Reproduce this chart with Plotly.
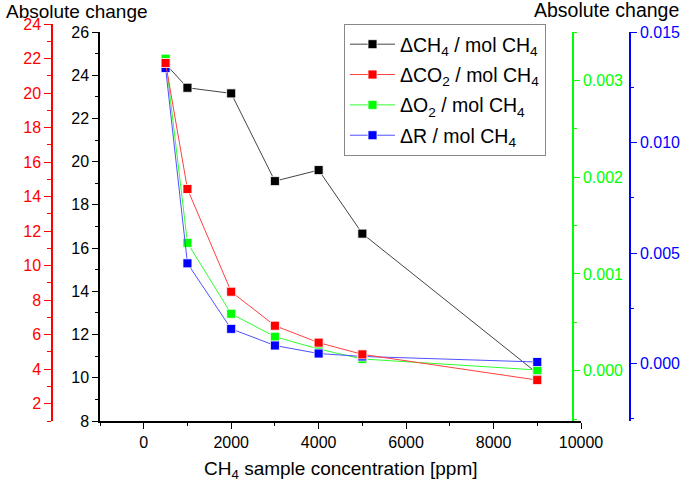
import plotly.graph_objects as go

# Data
conc = [500, 1000, 2000, 3000, 4000, 5000, 9000]
d_ch4 = [24.52, 23.42, 23.16, 19.10, 19.61, 16.67, 10.21]
d_co2 = [21.74, 14.44, 8.49, 6.52, 5.54, 4.86, 3.37]
d_o2 = [0.003224, 0.001321, 0.000588, 0.000351, 0.000224, 0.000121, 0.000007]
d_r = [0.01337, 0.004533, 0.001568, 0.000816, 0.000453, 0.00032, 0.00007]

names = ["ΔCH<sub>4</sub> / mol CH<sub>4</sub>", "ΔCO<sub>2</sub> / mol CH<sub>4</sub>",
         "ΔO<sub>2</sub> / mol CH<sub>4</sub>", "ΔR / mol CH<sub>4</sub>"]
x_title = "CH<sub>4</sub> sample concentration [ppm]"
y_title = "Absolute change"

FONT = "Liberation Sans, Arial, sans-serif"
BLACK, RED, GREEN, BLUE = "#000000", "#FF0000", "#00FF00", "#0000FF"

W, H = 685, 484
ML, MR, MT, MB = 48, 685 - 640, 24, 63
PW = W - ML - MR  # 592
PH = H - MT - MB  # 397

def px_x(p):
    return (p - ML) / PW

def px_y(p):
    return (H - MB - p) / PH

def mk(color):
    return dict(symbol="square", size=9, color=color, line=dict(color="rgba(255,255,255,0.8)", width=1))

fig = go.Figure()
fig.add_trace(go.Scatter(x=conc, y=d_ch4, name=names[0], mode="lines+markers", legendgroup="a",
                         line=dict(color="#444444", width=1), marker=mk(BLACK), xaxis="x", yaxis="y"))
fig.add_trace(go.Scatter(x=conc, y=d_co2, name=names[1], mode="lines+markers", legendgroup="b",
                         line=dict(color="#FF4040", width=1), marker=mk(RED), xaxis="x", yaxis="y2"))
fig.add_trace(go.Scatter(x=conc, y=d_o2, name=names[2], mode="lines+markers", legendgroup="c",
                         line=dict(color="#30FF30", width=1), marker=mk(GREEN), xaxis="x", yaxis="y3"))
fig.add_trace(go.Scatter(x=conc, y=d_r, name=names[3], mode="lines+markers", legendgroup="d",
                         line=dict(color="#5050FF", width=1), marker=mk(BLUE), xaxis="x", yaxis="y4"))

TS = 16
tickfont = dict(family=FONT, size=TS)
common = dict(showgrid=False, zeroline=False, showline=True, linewidth=1.5, ticks="outside", automargin=False)

fig.update_layout(
    width=W, height=H,
    margin=dict(l=ML, r=MR, t=MT, b=MB, autoexpand=False),
    paper_bgcolor="white", plot_bgcolor="rgba(0,0,0,0)",
    font=dict(family=FONT, size=TS, color=BLACK),
    showlegend=True,
    legend=dict(x=px_x(344), y=px_y(24), xanchor="left", yanchor="top",
                bordercolor="#888888", borderwidth=1, bgcolor="white", itemwidth=45,
                tracegroupgap=2, traceorder="grouped",
                font=dict(family=FONT, size=19.5, color=BLACK)),
    xaxis=dict(domain=[px_x(100), px_x(581)], range=[-1000, 10000], anchor="y",
               linecolor=BLACK, ticklen=6, tickcolor=BLACK, dtick=2000, tick0=0, tickformat="d",
               minor=dict(dtick=1000, ticklen=3, ticks="outside", tickcolor=BLACK),
               tickfont=tickfont, **common),
    yaxis=dict(domain=[0, 389 / PH], range=[8, 26], anchor="x",
               linecolor=BLACK, ticklen=6, tickcolor=BLACK, dtick=2, tick0=0,
               minor=dict(dtick=1, ticklen=3, ticks="outside", tickcolor=BLACK),
               tickfont=dict(family=FONT, size=TS, color=BLACK), **common),
    yaxis2=dict(domain=[0, 1], range=[1, 24], anchor="free", position=px_x(52), side="left",
                linecolor=RED, ticklen=7, tickcolor=RED, dtick=2, tick0=0,
                minor=dict(dtick=1, ticklen=4, ticks="outside", tickcolor=RED),
                tickfont=dict(family=FONT, size=TS, color=RED), **common),
    yaxis3=dict(overlaying="y", range=[-0.00052, 0.0035], anchor="free", position=px_x(573), side="right",
                linecolor=GREEN, ticklen=6, tickcolor=GREEN, dtick=0.001, tick0=0, tickformat=".3f",
                minor=dict(dtick=0.0005, ticklen=3, ticks="outside", tickcolor=GREEN),
                tickfont=dict(family=FONT, size=TS, color=GREEN), **common),
    yaxis4=dict(overlaying="y", range=[-0.0026, 0.015], anchor="free", position=px_x(630), side="right",
                linecolor=BLUE, ticklen=6, tickcolor=BLUE, dtick=0.005, tick0=0, tickformat=".3f",
                minor=dict(dtick=0.0025, ticklen=3, ticks="outside", tickcolor=BLUE),
                tickfont=dict(family=FONT, size=TS, color=BLUE), **common),
    annotations=[
        dict(text=y_title, xref="paper", yref="paper", x=px_x(4), y=px_y(12),
             xanchor="left", yanchor="middle", showarrow=False, font=dict(family=FONT, size=19, color=BLACK)),
        dict(text=y_title, xref="paper", yref="paper", x=px_x(681), y=px_y(10),
             xanchor="right", yanchor="middle", showarrow=False, font=dict(family=FONT, size=19.5, color=BLACK)),
        dict(text=x_title, xref="paper", yref="paper", x=px_x(340.5), y=px_y(470),
             xanchor="center", yanchor="middle", showarrow=False, font=dict(family=FONT, size=19, color=BLACK)),
    ],
)

fig.write_html("out.html", config={"displayModeBar": False},
               post_script="document.body.style.margin='0';document.body.style.overflow='hidden';")
